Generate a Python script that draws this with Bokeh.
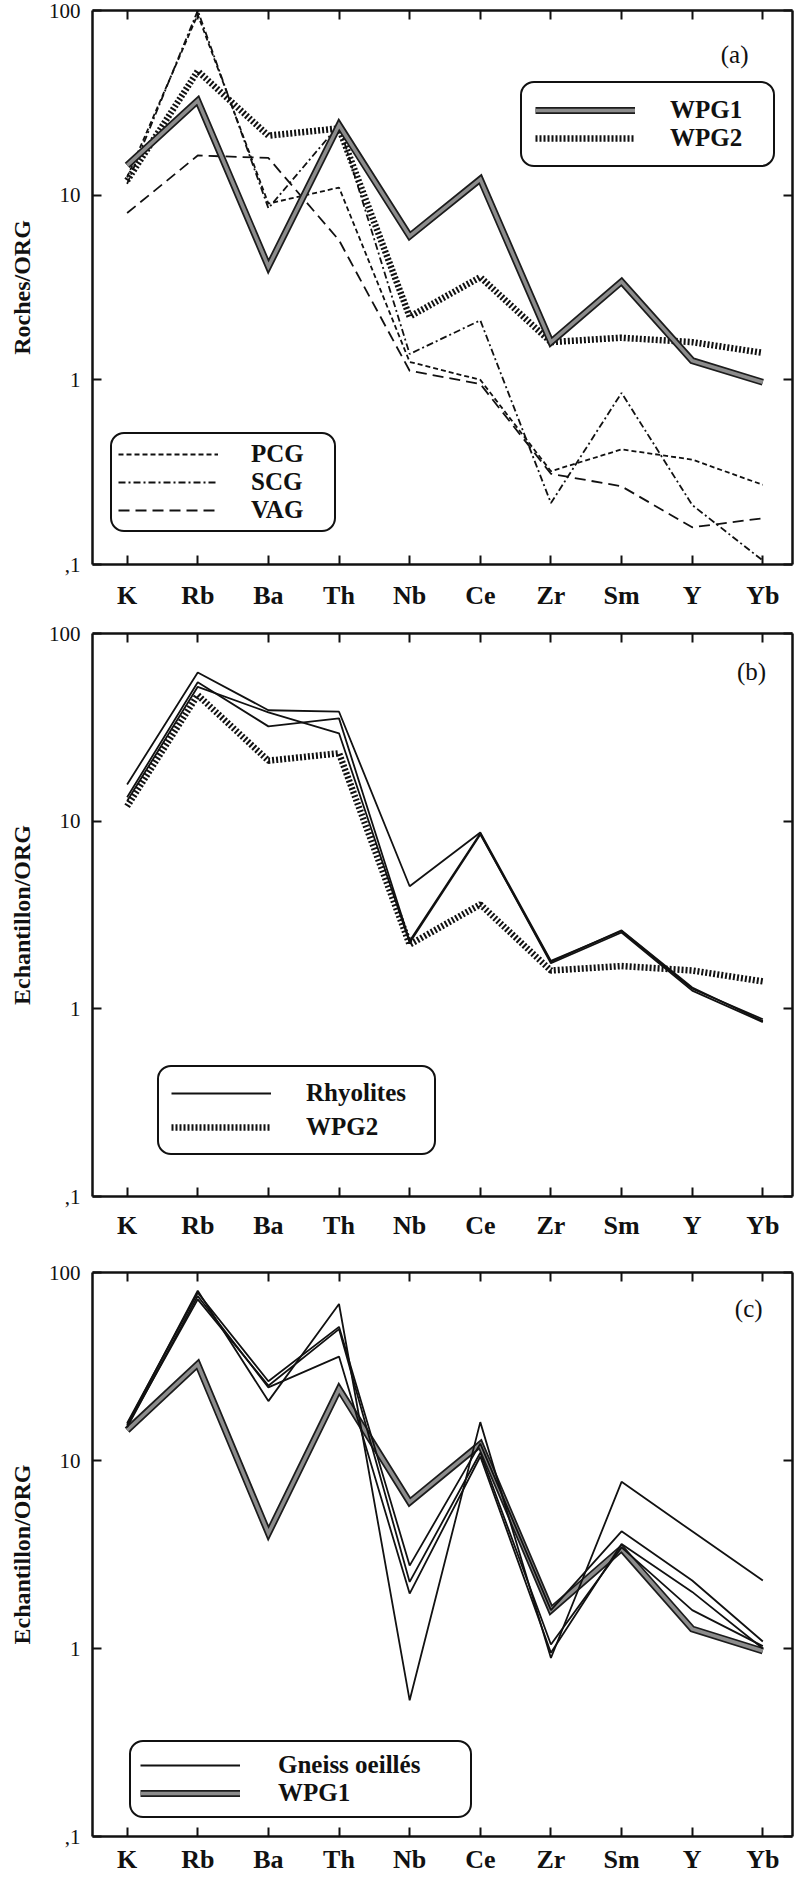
from bokeh.plotting import figure
from bokeh.models import (Range1d, FixedTicker, LinearAxis, LogAxis, Legend, LegendItem,
                          Label, CustomJSTickFormatter)
from bokeh.layouts import column
from bokeh.embed import file_html
from bokeh.resources import INLINE

# ---------------- data (ORG-normalised values) ----------------
elements = ["K", "Rb", "Ba", "Th", "Nb", "Ce", "Zr", "Sm", "Y", "Yb"]
y_ticks = [0.1, 1, 10, 100]
y_tick_labels = [",1", "1", "10", "100"]

wpg1 = [14.5, 32.5, 4.1, 24.0, 6.0, 12.2, 1.6, 3.4, 1.27, 0.97]
wpg2 = [12.0, 47.0, 21.0, 23.0, 2.2, 3.6, 1.6, 1.69, 1.6, 1.4]
pcg = [12.5, 95.0, 9.0, 11.0, 1.25, 1.0, 0.32, 0.42, 0.37, 0.27]
scg = [11.5, 100.0, 8.5, 24.0, 1.38, 2.1, 0.215, 0.85, 0.21, 0.105]
vag = [8.0, 16.4, 15.9, 5.7, 1.12, 0.95, 0.31, 0.265, 0.159, 0.178]

rhyolite_1 = [15.7, 62.0, 39.0, 38.3, 4.5, 8.7, 1.8, 2.6, 1.28, 0.88]
rhyolite_2 = [13.4, 55.0, 32.0, 35.3, 2.3, 8.6, 1.75, 2.55, 1.25, 0.85]
rhyolite_3 = [12.8, 52.0, 38.0, 29.4, 2.25, 8.5, 1.78, 2.62, 1.3, 0.86]

gneiss_1 = [15.5, 80.0, 20.7, 68.0, 0.53, 16.0, 0.89, 7.7, 4.2, 2.3]
gneiss_2 = [15.8, 78.0, 26.4, 51.4, 2.76, 12.3, 1.6, 4.2, 2.3, 1.09]
gneiss_3 = [15.3, 72.0, 25.0, 50.0, 2.26, 11.0, 1.05, 3.45, 1.6, 1.03]
gneiss_4 = [15.0, 75.0, 24.5, 35.7, 1.96, 10.5, 0.95, 3.6, 2.0, 1.0]

FONT = "Liberation Serif"
xs = list(range(len(elements)))


def make_panel(height, b_top, b_bottom, ylabel, tag, tag_x, tag_y, x_standoff):
    p = figure(width=795, height=height, y_axis_type="log",
               x_range=Range1d(-0.49, 9.42), y_range=Range1d(0.1, 100),
               output_backend="svg", toolbar_location=None,
               min_border_left=92, min_border_right=3,
               min_border_top=b_top, min_border_bottom=b_bottom)
    p.grid.visible = False
    p.outline_line_color = None
    p.background_fill_color = "white"
    p.border_fill_color = "white"

    xfmt = CustomJSTickFormatter(args=dict(names=elements),
                                 code="return names[Math.round(tick)];")
    yfmt = CustomJSTickFormatter(
        args=dict(yvals=y_ticks, ylabs=y_tick_labels),
        code="""
        let best = 0, d = 1e9;
        for (let i = 0; i < yvals.length; i++) {
            const dd = Math.abs(Math.log10(tick) - Math.log10(yvals[i]));
            if (dd < d) { d = dd; best = i; }
        }
        return ylabs[best];""")
    blank = CustomJSTickFormatter(code="return '';")

    xa = p.xaxis[0]
    xa.ticker = FixedTicker(ticks=xs)
    xa.formatter = xfmt
    ya = p.yaxis[0]
    ya.ticker = FixedTicker(ticks=y_ticks)
    ya.formatter = yfmt

    top = LinearAxis(ticker=FixedTicker(ticks=xs), formatter=blank)
    right = LogAxis(ticker=FixedTicker(ticks=y_ticks), formatter=blank)
    p.add_layout(top, "above")
    p.add_layout(right, "right")

    for ax in (xa, ya, top, right):
        ax.axis_line_width = 2.5
        ax.axis_line_color = "#111111"
        ax.major_tick_in = 9
        ax.major_tick_out = 0
        ax.major_tick_line_width = 2
        ax.major_tick_line_color = "#111111"
        ax.minor_tick_line_color = None
    for ax in (top, right):
        ax.major_label_standoff = 0
        ax.major_label_text_font_size = "0px"

    xa.major_label_text_font = FONT
    xa.major_label_text_font_style = "bold"
    xa.major_label_text_font_size = "26px"
    xa.major_label_text_color = "#111111"
    xa.major_label_standoff = x_standoff

    ya.major_label_text_font = FONT
    ya.major_label_text_font_size = "21px"
    ya.major_label_text_color = "#111111"
    ya.major_label_standoff = 12
    ya.axis_label = ylabel
    ya.axis_label_text_font = FONT
    ya.axis_label_text_font_style = "bold"
    ya.axis_label_text_font_size = "24px"
    ya.axis_label_text_color = "#111111"
    ya.axis_label_standoff = 11

    p.add_layout(Label(x=tag_x, y=tag_y, text=tag, text_font=FONT,
                       text_font_size="25px", text_align="center",
                       text_baseline="middle", text_color="#111111"))
    return p


def add_legend(p, items, loc, padding, standoff, spacing, label_width):
    lg = Legend(items=items, location=loc)
    lg.border_line_color = "#111111"
    lg.border_line_alpha = 1.0
    lg.border_line_width = 2
    lg.background_fill_color = "white"
    lg.background_fill_alpha = 1.0
    lg.label_text_font = FONT
    lg.label_text_font_size = "25px"
    lg.label_text_font_style = "bold"
    lg.label_text_color = "#111111"
    lg.glyph_width = 100
    lg.glyph_height = 24
    lg.label_height = 24
    lg.label_width = label_width
    lg.label_standoff = standoff
    lg.padding = padding
    lg.spacing = spacing
    lg.margin = 0
    if "border_radius" in Legend.properties():
        lg.border_radius = 14
    p.add_layout(lg)


def wpg1_line(p, ys):
    a = p.line(xs, ys, line_color="#1c1c1c", line_width=7, line_join="miter")
    b = p.line(xs, ys, line_color="#8c8c8c", line_width=3.5, line_join="miter")
    return [a, b]


def wpg2_line(p, ys):
    return [p.line(xs, ys, line_color="#111111", line_width=6.5,
                   line_dash="2 2", line_cap="butt")]


def thin_line(p, ys, dash="solid", width=1.8):
    return [p.line(xs, ys, line_color="#111111", line_width=width, line_dash=dash)]


# ---------------- panel (a) ----------------
pa = make_panel(612, 10, 37, "Roches/ORG", "(a)", 8.6, 58, 16)
r_pcg = thin_line(pa, pcg, "5 3")
r_scg = thin_line(pa, scg, "7 3 2 3")
r_vag = thin_line(pa, vag, "11 6")
r_w2a = wpg2_line(pa, wpg2)
r_w1a = wpg1_line(pa, wpg1)
add_legend(pa, [LegendItem(label="WPG1", renderers=r_w1a),
                LegendItem(label="WPG2", renderers=r_w2a)],
           (428, 397), 13, 35, 0, 90)
add_legend(pa, [LegendItem(label="PCG", renderers=r_pcg),
                LegendItem(label="SCG", renderers=r_scg),
                LegendItem(label="VAG", renderers=r_vag)],
           (18, 32), 6, 33, -2, 77)

# ---------------- panel (b) ----------------
pb = make_panel(630, 21, 40, "Echantillon/ORG", "(b)", 8.84, 63, 14)
r_w2b = wpg2_line(pb, wpg2)
r_rh = thin_line(pb, rhyolite_1)
thin_line(pb, rhyolite_2)
thin_line(pb, rhyolite_3)
add_legend(pb, [LegendItem(label="Rhyolites", renderers=r_rh),
                LegendItem(label="WPG2", renderers=r_w2b)],
           (65, 41), 12, 35, 6, 116)

# ---------------- panel (c) ----------------
pc = make_panel(634, 30, 33, "Echantillon/ORG", "(c)", 8.8, 64, 8)
r_w1c = wpg1_line(pc, wpg1)
r_gn = thin_line(pc, gneiss_1)
thin_line(pc, gneiss_2)
thin_line(pc, gneiss_3)
thin_line(pc, gneiss_4)
add_legend(pc, [LegendItem(label="Gneiss oeillés", renderers=r_gn),
                LegendItem(label="WPG1", renderers=r_w1c)],
           (37, 18), 9, 38, 0, 183)

layout = column(pa, pb, pc, spacing=0)
open("out.html", "w").write(file_html(layout, INLINE))
